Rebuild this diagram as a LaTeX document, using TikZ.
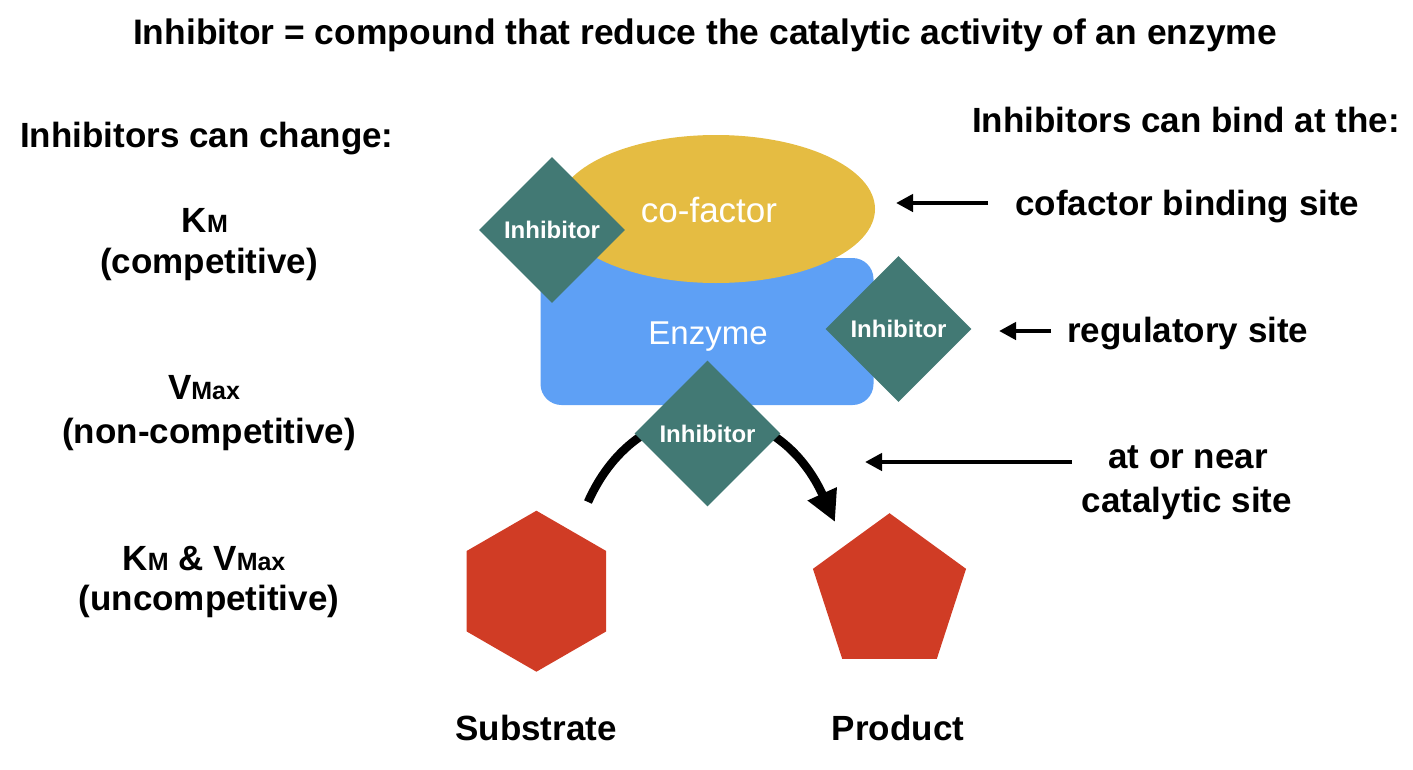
\documentclass[tikz,border=0pt]{standalone}
\usepackage{fontspec}
\setmainfont{Liberation Sans}
\usetikzlibrary{shapes.geometric,arrows.meta}
\definecolor{cofac}{RGB}{229,188,66}
\definecolor{enzblue}{RGB}{94,160,245}
\definecolor{inhteal}{RGB}{66,121,116}
\definecolor{molred}{RGB}{208,60,37}
\newcommand\subsz[1]{{\fontsize{25bp}{25bp}\selectfont #1}}
\begin{document}
\begin{tikzpicture}[x=1bp,y=-1bp,
  lbl/.style={font=\fontsize{35bp}{40bp}\selectfont\bfseries, inner sep=0, anchor=base},
  wlbl/.style={text=white, inner sep=0, anchor=base},
  inhib/.style={diamond, fill=inhteal, inner sep=0, minimum width=146bp, minimum height=146bp, text=white, font=\fontsize{24bp}{28bp}\selectfont\bfseries},
  molecule/.style={regular polygon, fill=molred, inner sep=0, minimum size=161bp},
  ptr/.style={line width=4.5bp, -{Triangle[length=17bp,width=17bp]}},
  react/.style={line width=8.5bp, -{Triangle[length=31bp,width=30bp]}},
]
\useasboundingbox (0,0) rectangle (1413,769);

% enzyme body and cofactor
\node[fill=enzblue, rounded corners=21bp, minimum width=333bp, minimum height=147bp, inner sep=0] (enz) at (707,331.5) {};
\node[ellipse, fill=cofac, minimum width=318bp, minimum height=148bp, inner sep=0] (cof) at (716,209) {};

% reaction arc
\coordinate (arcs) at (588,502);
\coordinate (arce) at (835,522);
\draw[react] (arcs) .. controls (640,385) and (775,390) .. (arce);

% inhibitors
\node[inhib] (i1) at (552,230) {Inhibitor};
\node[inhib] (i2) at (898.5,329) {Inhibitor};
\node[inhib] (i3) at (707.5,433.5) {Inhibitor};

% substrate and product
\node[molecule, regular polygon sides=6, shape border rotate=30] (sub) at (536.4,591.2) {};
\node[molecule, regular polygon sides=5] (prod) at (889.5,593.7) {};

% white texts
\node[wlbl, font=\fontsize{35bp}{40bp}\selectfont] (coft) at (709,222) {co-factor};
\node[wlbl, font=\fontsize{33bp}{40bp}\selectfont] (enzt) at (708,344) {Enzyme};

% headings
\node[lbl, font=\fontsize{35.4bp}{40bp}\selectfont\bfseries] (title) at (705,45) {Inhibitor = compound that reduce the catalytic activity of an enzyme};
\node[lbl, anchor=base west] (chg) at (20,147) {Inhibitors can change:};
\node[lbl, anchor=base east] (bind) at (1400,132) {Inhibitors can bind at the:};

% left column
\node[lbl] (km) at (205,232) {K\subsz{M}};
\node[lbl] (comp) at (209,273) {(competitive)};
\node[lbl] (vm) at (204,399) {V\subsz{Max}};
\node[lbl] (ncomp) at (209,443) {(non-competitive)};
\node[lbl] (kv) at (204,570) {K\subsz{M} \& V\subsz{Max}};
\node[lbl] (ucomp) at (209,610) {(uncompetitive)};

% right column
\node[lbl, anchor=base west] (cbs) at (1015,215) {cofactor binding site};
\node[lbl, anchor=base west] (reg) at (1067,342) {regulatory site};
\node[lbl] (near1) at (1188,468) {at or near};
\node[lbl] (near2) at (1187,512) {catalytic site};

% molecule labels
\node[lbl] (subl) at (536,740) {Substrate};
\node[lbl] (prodl) at (898,740) {Product};

% pointer arrows
\coordinate (a1s) at (988,203); \coordinate (a1e) at (896,203);
\coordinate (a2s) at (1051,331); \coordinate (a2e) at (999,331);
\coordinate (a3s) at (1072,462); \coordinate (a3e) at (865,462);
\draw[ptr] (a1s) -- (a1e);
\draw[ptr] (a2s) -- (a2e);
\draw[ptr] (a3s) -- (a3e);
\end{tikzpicture}
\end{document}
